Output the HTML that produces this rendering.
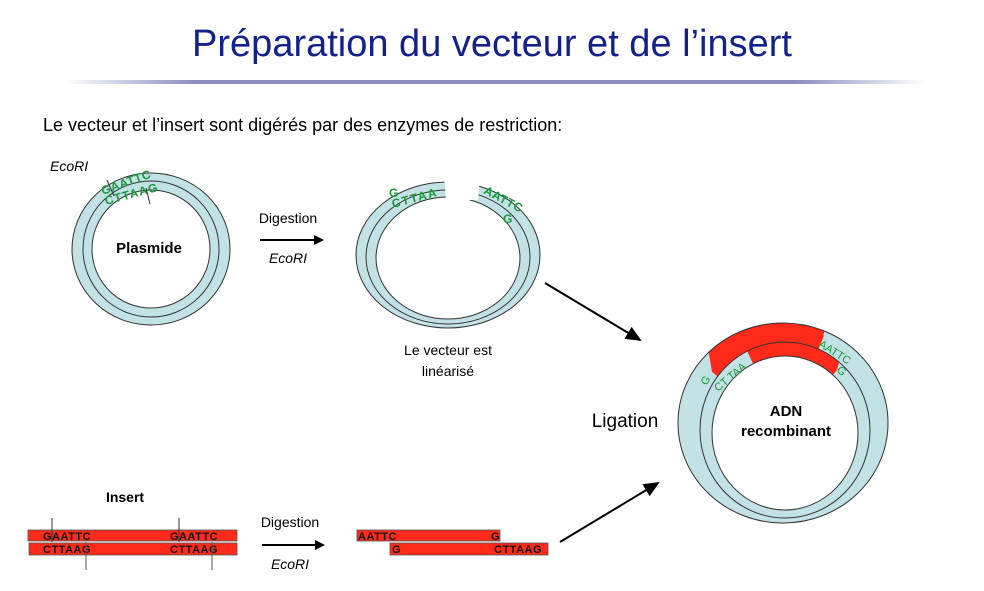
<!DOCTYPE html>
<html><head><meta charset="utf-8"><style>
html,body{margin:0;padding:0;background:#fff;}
svg{display:block;font-family:"Liberation Sans",Arial,sans-serif;}
</style></head><body>
<svg width="984" height="591" viewBox="0 0 984 591" xmlns="http://www.w3.org/2000/svg">
<defs>
<linearGradient id="ul" x1="0" x2="1"><stop offset="0" stop-color="#fff"/><stop offset="0.15" stop-color="#8a8fc0"/><stop offset="0.85" stop-color="#8a8fc0"/><stop offset="1" stop-color="#fff"/></linearGradient>
<marker id="ah" markerWidth="10" markerHeight="10" refX="8" refY="5" orient="auto" markerUnits="userSpaceOnUse"><path d="M0,0 L10,5 L0,10 z" fill="#000"/></marker>
<marker id="ah2" markerWidth="16" markerHeight="14" refX="14" refY="7" orient="auto" markerUnits="userSpaceOnUse"><path d="M0,0 L16,7 L0,14 z" fill="#000"/></marker>
<clipPath id="cOut"><ellipse cx="783" cy="423" rx="105" ry="100"/></clipPath>
<clipPath id="cMid"><ellipse cx="785" cy="430" rx="85" ry="88"/></clipPath>
</defs>
<text x="492" y="56" text-anchor="middle" font-size="38" fill="#13218c">Préparation du vecteur et de l’insert</text>
<rect x="65" y="80" width="860" height="4" fill="url(#ul)"/>
<text x="43" y="131" font-size="18" fill="#000">Le vecteur et l’insert sont digérés par des enzymes de restriction:</text>

<!-- Plasmid -->
<ellipse cx="151" cy="249" rx="79" ry="76" fill="#c2e2e6" stroke="#333" stroke-width="1"/>
<ellipse cx="151" cy="249" rx="68" ry="68" fill="none" stroke="#333" stroke-width="1"/>
<ellipse cx="151" cy="249" rx="59" ry="59" fill="#fff" stroke="#333" stroke-width="1"/>
<text x="50" y="171" font-size="14" font-style="italic">EcoRI</text>
<text x="103" y="195" font-size="12" font-weight="bold" fill="#1a9a3a" transform="rotate(-20 103 195)" letter-spacing="0.5">GAATTC</text>
<text x="106" y="205" font-size="12" font-weight="bold" fill="#1a9a3a" transform="rotate(-15 106 205)" letter-spacing="1">CTTAAG</text>
<line x1="107" y1="180" x2="114" y2="196" stroke="#333"/>
<line x1="146" y1="188" x2="150" y2="204" stroke="#333"/>
<text x="149" y="253" font-size="15" font-weight="bold" text-anchor="middle">Plasmide</text>

<text x="288" y="223" font-size="14" text-anchor="middle">Digestion</text>
<line x1="260" y1="240" x2="322" y2="240" stroke="#000" stroke-width="2" marker-end="url(#ah)"/>
<text x="288" y="263" font-size="14" font-style="italic" text-anchor="middle">EcoRI</text>

<!-- Linearised vector -->
<ellipse cx="448" cy="255" rx="92" ry="73" fill="#c2e2e6" stroke="#333" stroke-width="1"/>
<ellipse cx="448" cy="257" rx="82" ry="67" fill="none" stroke="#333" stroke-width="1"/>
<ellipse cx="448" cy="258" rx="72" ry="61" fill="#fff" stroke="#333" stroke-width="1"/>
<polygon points="443,165 481,165 478,200 446,200" fill="#fff"/>
<text x="389" y="197" font-size="12" font-weight="bold" fill="#1a9a3a" letter-spacing="1">G</text>
<text x="393" y="208" font-size="12" font-weight="bold" fill="#1a9a3a" transform="rotate(-15 393 208)" letter-spacing="1.5">CTTAA</text>
<text x="483" y="193" font-size="12" font-weight="bold" fill="#1a9a3a" transform="rotate(28 483 193)" letter-spacing="0.5">AATTC</text>
<text x="503" y="223" font-size="12" font-weight="bold" fill="#1a9a3a">G</text>
<text x="448" y="355" font-size="14" text-anchor="middle">Le vecteur est</text>
<text x="448" y="376" font-size="14" text-anchor="middle">linéarisé</text>

<line x1="545" y1="283" x2="640" y2="340" stroke="#000" stroke-width="2" marker-end="url(#ah2)"/>
<text x="625" y="427" font-size="19" text-anchor="middle">Ligation</text>
<line x1="560" y1="542" x2="658" y2="483" stroke="#000" stroke-width="2" marker-end="url(#ah2)"/>

<!-- Recombinant -->
<ellipse cx="783" cy="423" rx="105" ry="100" fill="#c2e2e6"/>
<polygon clip-path="url(#cOut)" points="712,372 700,300 830,300 823,338 785,430" fill="#ff2a1a"/>
<ellipse cx="785" cy="430" rx="85" ry="88" fill="#c2e2e6"/>
<polygon clip-path="url(#cMid)" points="748,353 745,300 855,300 837,370 785,433" fill="#ff2a1a"/>
<ellipse cx="785" cy="433" rx="73" ry="77" fill="#fff" stroke="#333" stroke-width="1"/>
<ellipse cx="783" cy="423" rx="105" ry="100" fill="none" stroke="#333" stroke-width="1"/>
<ellipse cx="785" cy="430" rx="85" ry="88" fill="none" stroke="#333" stroke-width="1"/>
<text x="706" y="386" font-size="11" fill="#1a9a3a" transform="rotate(-55 706 386)">G</text>
<text x="718" y="392" font-size="11" fill="#1a9a3a" transform="rotate(-40 718 392)">CT TAA</text>
<text x="818" y="346" font-size="11" fill="#1a9a3a" transform="rotate(32 818 346)">AATTC</text>
<text x="836" y="371" font-size="11" fill="#1a9a3a" transform="rotate(40 836 371)">G</text>
<text x="786" y="416" font-size="15" font-weight="bold" text-anchor="middle">ADN</text>
<text x="786" y="436" font-size="15" font-weight="bold" text-anchor="middle">recombinant</text>

<!-- Insert -->
<text x="125" y="502" font-size="14" font-weight="bold" text-anchor="middle">Insert</text>
<rect x="28" y="530" width="209" height="11" fill="#ff2a1a" stroke="#555" stroke-width="0.8"/>
<rect x="29" y="543" width="208" height="12" fill="#ff2a1a" stroke="#555" stroke-width="0.8"/>
<g font-size="11" font-weight="bold" fill="#111" letter-spacing="0.5">
<text x="43" y="540">GAATTC</text><text x="170" y="540">GAATTC</text>
<text x="43" y="553">CTTAAG</text><text x="170" y="553">CTTAAG</text>
</g>
<line x1="52" y1="518" x2="52" y2="542" stroke="#333"/>
<line x1="179" y1="518" x2="179" y2="542" stroke="#333"/>
<line x1="86" y1="542" x2="86" y2="570" stroke="#555"/>
<line x1="212" y1="542" x2="212" y2="570" stroke="#555"/>
<text x="290" y="527" font-size="14" text-anchor="middle">Digestion</text>
<line x1="262" y1="545" x2="323" y2="545" stroke="#000" stroke-width="2" marker-end="url(#ah)"/>
<text x="290" y="569" font-size="14" font-style="italic" text-anchor="middle">EcoRI</text>
<rect x="357" y="530" width="143" height="11" fill="#ff2a1a" stroke="#555" stroke-width="0.8"/>
<rect x="390" y="543" width="158" height="12" fill="#ff2a1a" stroke="#555" stroke-width="0.8"/>
<g font-size="11" font-weight="bold" fill="#111" letter-spacing="0.5">
<text x="358" y="540">AATTC</text><text x="491" y="540">G</text>
<text x="392" y="553">G</text><text x="494" y="553">CTTAAG</text>
</g>
</svg>
</body></html>
